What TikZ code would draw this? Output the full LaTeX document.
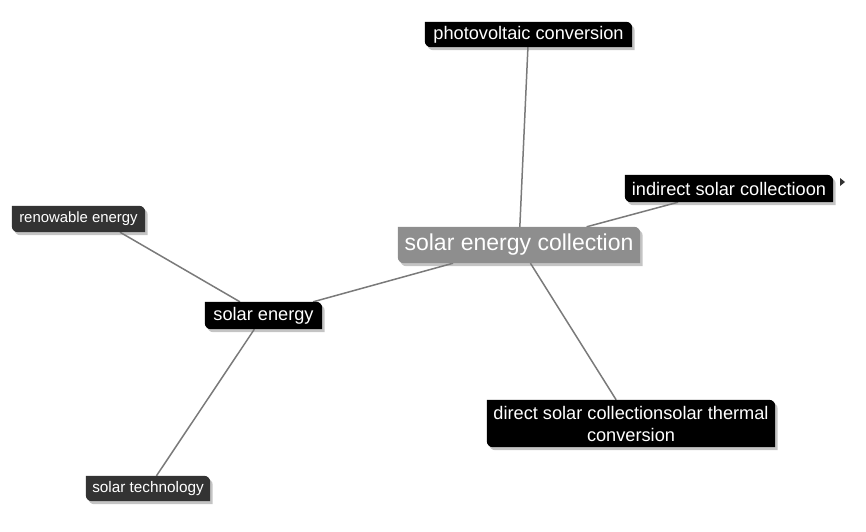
\documentclass[tikz,border=0pt]{standalone}
\usepackage{fontspec}
\setmainfont{Liberation Sans}
\usetikzlibrary{backgrounds}
\definecolor{edgegray}{HTML}{7A7A7A}
\definecolor{tagdark}{HTML}{333333}
\definecolor{taggray}{HTML}{8E8E8E}
\definecolor{shadowgray}{HTML}{C4C4C4}
\tikzset{
  tag/.style={text=white, inner sep=0pt, align=center, font=\fontsize{18.2}{20}\selectfont},
  link/.style={draw=edgegray, line width=1.5pt},
}
\begin{document}
\begin{tikzpicture}[x=1pt,y=-1pt]
\useasboundingbox (0,0) rectangle (866,531);
\node[tag, minimum width=207pt, minimum height=25pt] (pv) at (528.5,34.5) {photovoltaic conversion};
\node[tag, minimum width=208pt, minimum height=27pt] (ind) at (729,188.5) {indirect solar collectioon};
\node[tag, minimum width=242pt, minimum height=36pt, font=\fontsize{23}{25}\selectfont] (sec) at (519,245) {solar energy collection};
\node[tag, minimum width=133pt, minimum height=26pt, font=\fontsize{14.9}{16}\selectfont] (ren) at (78.5,219) {renowable energy};
\node[tag, minimum width=117pt, minimum height=27pt, font=\fontsize{18.2}{20}\selectfont] (se) at (263.5,315.5) {solar energy};
\node[tag, minimum width=288pt, minimum height=47pt, font=\fontsize{18.2}{22}\selectfont] (dir) at (631,423.5) {direct solar collectionsolar thermal\\conversion};
\node[tag, minimum width=124pt, minimum height=25pt, font=\fontsize{15.3}{17}\selectfont] (st) at (148,488.5) {solar technology};
\begin{pgfonlayer}{background}
\begin{scope}[transform canvas={shift={(2.5pt,-3pt)}}]
\foreach \n in {pv, ind, sec, ren, se, dir, st} {
  \fill[shadowgray]
    (\n.north west) -- ([xshift=-6pt]\n.north east) arc[start angle=90, end angle=0, radius=6pt]
    -- (\n.south east) -- ([xshift=6pt]\n.south west) arc[start angle=270, end angle=180, radius=6pt] -- cycle;
}
\end{scope}
\draw[link] (pv) -- (sec);
\draw[link] (ind) -- (sec);
\draw[link] (sec) -- (se);
\draw[link] ([xshift=41.5pt]ren.south) -- (se);
\draw[link] (se) -- (st);
\draw[link] (sec) -- (dir);
\foreach \n/\c in {pv/black, ind/black, sec/taggray, ren/tagdark, se/black, dir/black, st/tagdark} {
  \fill[\c]
    (\n.north west) -- ([xshift=-6pt]\n.north east) arc[start angle=90, end angle=0, radius=6pt]
    -- (\n.south east) -- ([xshift=6pt]\n.south west) arc[start angle=270, end angle=180, radius=6pt] -- cycle;
}
\end{pgfonlayer}
\coordinate (tri) at (840,178);
\fill[tagdark] (tri) -- ++(0,8) -- ++(5,-4) -- cycle;
\end{tikzpicture}
\end{document}
